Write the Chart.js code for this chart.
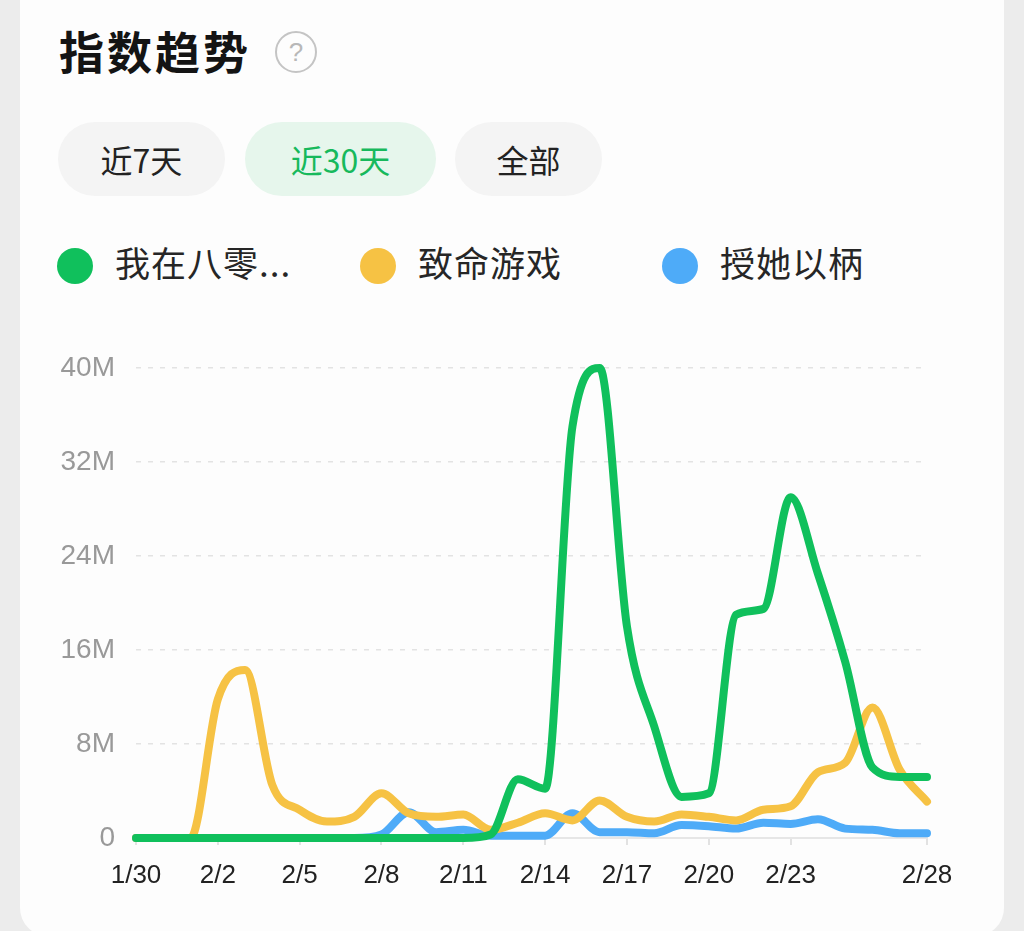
<!DOCTYPE html>
<html>
<head>
<meta charset="utf-8">
<script src="https://cdn.jsdelivr.net/npm/chart.js@4.4.0/dist/chart.umd.min.js"></script>
<style>
	html, body { margin: 0; padding: 0; }
	body { width: 1024px; height: 931px; background: #ececec; position: relative; overflow: hidden; font-family: "Noto Sans CJK SC", "Noto Sans", sans-serif; }
	#card { position: absolute; left: 20px; top: -30px; width: 984px; height: 966px; background: #fdfdfd; border-radius: 28px; }
	#title { position: absolute; left: 59px; top: 21px; font-size: 45px; font-weight: bold; color: #141414; letter-spacing: 3px; line-height: 60px; }
	#help { position: absolute; left: 275px; top: 31px; width: 38px; height: 38px; border: 2px solid #c4c4c4; border-radius: 50%; color: #b8b8b8; font-size: 26px; line-height: 38px; text-align: center; font-family: "Liberation Sans", sans-serif; }
	.btn { position: absolute; top: 122px; height: 74px; border-radius: 37px; background: #f4f4f4; color: #222; font-size: 32px; line-height: 74px; text-align: center; }
	.btn.on { background: #e6f6ec; color: #17b95c; }
	.legend-item { position: absolute; top: 239px; height: 52px; line-height: 52px; font-size: 35px; color: #262626; }
	.legend-item .dot { position: absolute; left: 0; top: 9px; width: 36px; height: 36px; border-radius: 50%; }
	.legend-item span.txt { position: absolute; left: 58px; top: -3px; white-space: nowrap; letter-spacing: 1px; }
	#chart-box { position: absolute; left: 0; top: 330px; width: 1024px; height: 570px; }
</style>
</head>
<body>
<div id="card"></div>
<div id="title">指数趋势</div>
<div id="help">?</div>
<div class="btn" style="left:58px;width:167px;">近7天</div>
<div class="btn on" style="left:245px;width:191px;">近30天</div>
<div class="btn" style="left:455px;width:147px;">全部</div>
<div id="legend"></div>
<div id="chart-box"><canvas id="trend-chart" width="1024" height="570"></canvas></div>

<script>
// dates 1/30 .. 2/28, values in millions
var dateLabels = ["1/30", "1/31", "2/1", "2/2", "2/3", "2/4", "2/5", "2/6", "2/7", "2/8",
	"2/9", "2/10", "2/11", "2/12", "2/13", "2/14", "2/15", "2/16", "2/17", "2/18",
	"2/19", "2/20", "2/21", "2/22", "2/23", "2/24", "2/25", "2/26", "2/27", "2/28"];
var shownDates = ["1/30", "2/2", "2/5", "2/8", "2/11", "2/14", "2/17", "2/20", "2/23", "2/28"];

var seriesNames = ["我在八零...", "致命游戏", "授她以柄"];
var seriesColors = ["#10c05c", "#f6c244", "#4eabf8"];

var greenValues = [0, 0, 0, 0, 0, 0, 0, 0, 0, 0,
	0, 0, 0, 0.3, 5, 4.2, 35, 40, 18, 9.5,
	3.5, 3.8, 19, 19.5, 29, 22.5, 15, 6, 5.2, 5.2];
var yellowValues = [0, 0, 0, 11.8, 14.3, 4.5, 2.4, 1.4, 1.8, 3.8,
	2.1, 1.8, 2.0, 0.7, 1.3, 2.1, 1.5, 3.2, 1.8, 1.4,
	2.0, 1.8, 1.5, 2.4, 2.7, 5.6, 6.4, 11.1, 5.8, 3.1];
var blueValues = [0, 0, 0, 0, 0, 0, 0, 0, 0, 0.3,
	2.2, 0.5, 0.7, 0.2, 0.2, 0.2, 2.1, 0.5, 0.5, 0.4,
	1.1, 1.0, 0.8, 1.3, 1.2, 1.6, 0.8, 0.7, 0.4, 0.4];

var yMax = 40;
var yStep = 8;

function buildLegend() {
	var legendElement = document.getElementById("legend");
	var legendLefts = [57, 360, 662];
	
	for(var i = 0; i < seriesNames.length; i++) {
		var itemElement = document.createElement("div");
		itemElement.className = "legend-item";
		itemElement.style.left = legendLefts[i] + "px";
		itemElement.innerHTML = '<span class="dot" style="background:' + seriesColors[i] + '"></span><span class="txt">' + seriesNames[i] + '</span>';
		legendElement.appendChild(itemElement);
	}
}

function makeDataset(index, values) {
	return {
		label: seriesNames[index],
		data: values,
		borderColor: seriesColors[index],
		backgroundColor: seriesColors[index],
		borderWidth: 8,
		pointRadius: 0,
		pointHoverRadius: 0,
		cubicInterpolationMode: "monotone",
		borderCapStyle: "round",
		borderJoinStyle: "round",
		clip: 10,
		fill: false
	};
}

window.onload = function() {
	buildLegend();
	
	window.trendChart = new Chart(document.getElementById("trend-chart"), {
		type: "line",
		data: {
			labels: dateLabels,
			datasets: [
				makeDataset(0, greenValues),
				makeDataset(1, yellowValues),
				makeDataset(2, blueValues)
			]
		},
		options: {
			responsive: false,
			animation: false,
			layout: {
				padding: {left: 0, right: 97, top: 38, bottom: 0}
			},
			plugins: {
				legend: {display: false},
				tooltip: {enabled: false}
			},
			scales: {
				x: {
					offset: false,
					border: {display: true, color: "#e6e6e6", width: 2},
					grid: {
						drawOnChartArea: false,
						drawTicks: true,
						tickLength: 7,
						lineWidth: 2,
						color: function(ctx) {
							var lbl = dateLabels[ctx.index];
							return shownDates.indexOf(lbl) >= 0 ? "#e2e2e2" : "rgba(0,0,0,0)";
						}
					},
					ticks: {
						autoSkip: false,
						maxRotation: 0,
						padding: 15,
						color: "#222",
						font: {family: "'Liberation Sans', Arial, sans-serif", size: 26},
						callback: function(value, index) {
							var lbl = dateLabels[index];
							return shownDates.indexOf(lbl) >= 0 ? lbl : "";
						}
					},
					afterFit: function(scale) { scale.height = 62; }
				},
				y: {
					min: 0,
					max: yMax,
					grid: {
						drawTicks: false,
						lineWidth: 1.5,
						color: function(ctx) { return ctx.tick && ctx.tick.value === 0 ? "rgba(0,0,0,0)" : "#e3e3e3"; }
					},
					border: {display: false, dash: [5, 7]},
					ticks: {
						stepSize: yStep,
						padding: 21,
						color: "#999999",
						font: {family: "'Liberation Sans', Arial, sans-serif", size: 28},
						callback: function(value) { return value === 0 ? "0" : value + "M"; }
					},
					afterFit: function(scale) { scale.width = 136; }
				}
			}
		}
	});
};
</script>
</body>
</html>
